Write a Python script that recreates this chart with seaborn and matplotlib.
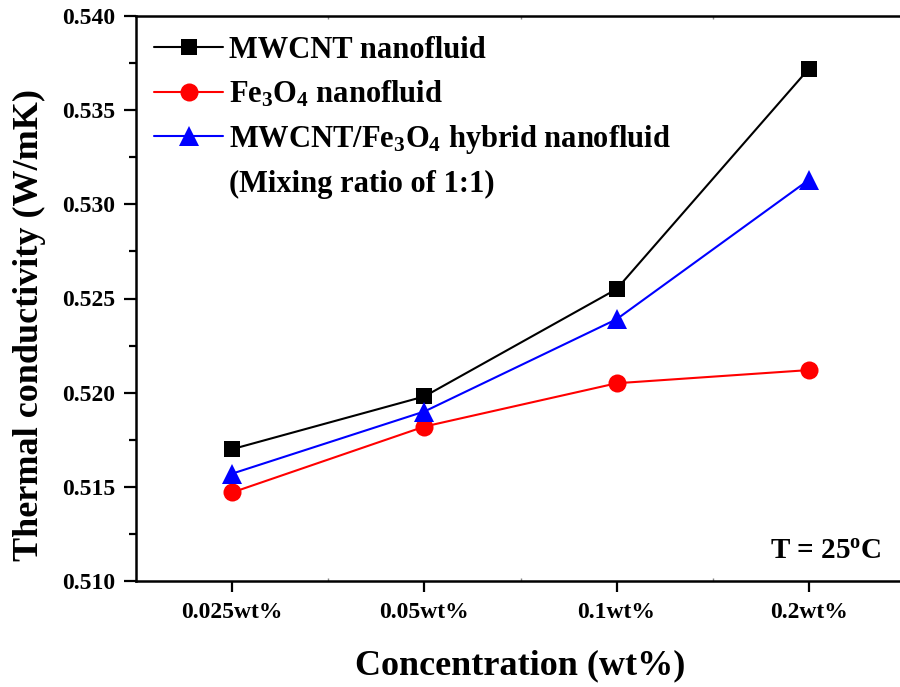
import matplotlib
matplotlib.use("Agg")
import matplotlib.pyplot as plt
from matplotlib.lines import Line2D
from matplotlib.ticker import MultipleLocator, FixedLocator, FormatStrFormatter
import pandas as pd
import seaborn as sns

# Concentrations on the x axis and measured thermal conductivity (W/mK) at 25 °C
concentrations = ["0.025wt%", "0.05wt%", "0.1wt%", "0.2wt%"]
mwcnt = [0.5170, 0.5198, 0.5255, 0.5372]
fe3o4 = [0.5147, 0.5182, 0.5205, 0.5212]
hybrid = [0.5157, 0.5190, 0.5239, 0.5313]

series_names = [
    "MWCNT nanofluid",
    r"$\mathrm{Fe_3O_4}$ nanofluid",
    r"MWCNT/$\mathrm{Fe_3O_4}$ hybrid nanofluid",
]
series_values = [mwcnt, fe3o4, hybrid]
series_colors = ["black", "#ff0000", "#0000ff"]
series_markers = ["s", "o", "^"]
series_msizes = [12, 13, 14]

sns.set_theme(style="ticks")
plt.rcParams["font.family"] = ["Liberation Serif", "DejaVu Serif"]
plt.rcParams["font.weight"] = "bold"
plt.rcParams["text.color"] = "black"
plt.rcParams["axes.labelcolor"] = "black"
plt.rcParams["xtick.color"] = "black"
plt.rcParams["ytick.color"] = "black"
plt.rcParams["mathtext.fontset"] = "custom"
plt.rcParams["mathtext.rm"] = "Liberation Serif:bold"
plt.rcParams["mathtext.it"] = "Liberation Serif:italic:bold"
plt.rcParams["mathtext.bf"] = "Liberation Serif:bold"

rows = []
for name, vals in zip(series_names, series_values):
    for i, v in enumerate(vals):
        rows.append({"pos": i, "k": v, "series": name})
df = pd.DataFrame(rows)

fig = plt.figure(figsize=(9.0, 6.87), dpi=100)
ax = fig.add_axes([136 / 900, 106 / 687, (905 - 136) / 900, (581 - 16) / 687])

handles = []
for name, color, marker, ms in zip(series_names, series_colors, series_markers, series_msizes):
    sub = df[df["series"] == name]
    sns.lineplot(data=sub, x="pos", y="k", ax=ax, color=color, marker=marker,
                 markersize=ms, markeredgewidth=0, linewidth=1.5, legend=False,
                 markeredgecolor=color, markerfacecolor=color)
    handles.append(Line2D([], [], color=color, marker=marker, markersize=ms,
                          markeredgewidth=0, linewidth=1.5))

ax.set_xlim(-0.5, 3.5)
ax.set_ylim(0.510, 0.540)
ax.set_xticks(range(len(concentrations)))
ax.set_xticklabels(concentrations)
ax.xaxis.set_minor_locator(FixedLocator([0.5, 1.5, 2.5]))
ax.yaxis.set_major_locator(MultipleLocator(0.005))
ax.yaxis.set_minor_locator(MultipleLocator(0.0025))
ax.yaxis.set_major_formatter(FormatStrFormatter("%.3f"))

for sp in ax.spines.values():
    sp.set_linewidth(1.8)
    sp.set_color("black")

ax.tick_params(axis="y", which="major", direction="out", length=9, width=1.6,
               labelsize=17, pad=6, colors="black")
ax.tick_params(axis="y", which="minor", direction="out", length=5, width=1.6, colors="black")
ax.tick_params(axis="x", which="major", direction="out", length=8, width=1.6,
               labelsize=17, pad=7, colors="black")
ax.tick_params(axis="x", which="minor", direction="in", length=2, width=1.0,
               colors="#888888", top=True, bottom=True)
for lbl in ax.get_xticklabels() + ax.get_yticklabels():
    lbl.set_fontweight("bold")

ax.set_xlabel("Concentration (wt%)", fontsize=26, fontweight="bold", labelpad=19)
ax.set_ylabel("Thermal conductivity (W/mK)", fontsize=26, fontweight="bold")
ax.yaxis.set_label_coords(-0.1176, 0.453)

handles.append(Line2D([], [], linestyle="none", marker=None))
labels = series_names + ["(Mixing ratio of 1:1)"]
leg = ax.legend(handles, labels, loc="upper left", bbox_to_anchor=(0.0, 0.997),
                frameon=False, fontsize=22, handlelength=2.25, handletextpad=0.2,
                borderaxespad=0.25, borderpad=0.35, labelspacing=0.45)
for t in leg.get_texts():
    t.set_fontweight("bold")
    t.set_color("black")

ax.text(0.97, 0.0285, r"T = 25$^{\mathrm{o}}$C", transform=ax.transAxes,
        ha="right", va="bottom", fontsize=21, fontweight="bold")

fig.savefig("out.png", dpi=100)
